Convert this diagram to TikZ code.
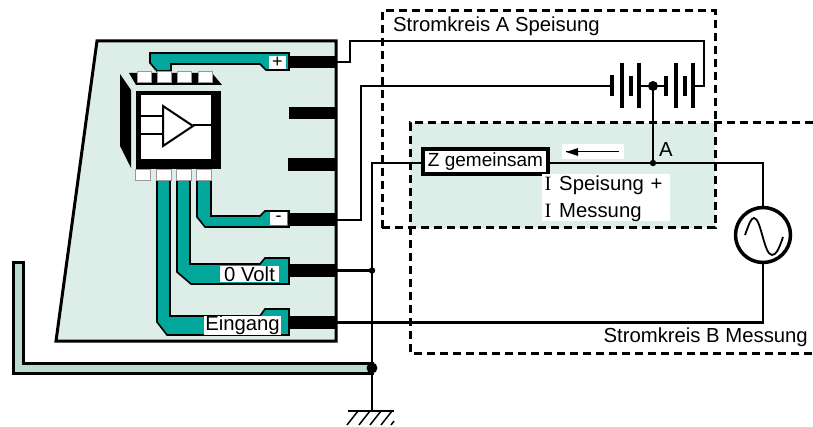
\documentclass[tikz,border=0pt]{standalone}
\usepackage{fontspec}
\setmainfont{Liberation Sans}
\newfontfamily\romanI{Liberation Serif}
\tikzset{
  board/.style={draw=black,line width=3pt,fill=boardtint},
  trace/.style={draw=black,line width=1.6pt,fill=tracegreen},
  pad/.style={fill=black},
  pin/.style={draw=black!40,line width=0.6pt,fill=white},
  wire/.style={draw=black,line width=2.1pt},
  plate/.style={draw=black,line width=3.2pt},
  circuit/.style={draw=black,line width=3pt,dash pattern=on 8pt off 5pt},
  lab/.style={font=\fontsize{20.3}{26}\selectfont,inner sep=0pt},
  whitelab/.style={lab,fill=white,text=black},
}
\definecolor{boardtint}{HTML}{DDEDE8}
\definecolor{tracegreen}{HTML}{00A79A}
\definecolor{chassis}{HTML}{BADBD1}
\begin{document}
\begin{tikzpicture}[x=1pt,y=-1pt]
\useasboundingbox (0,0) rectangle (813,427);

\fill[boardtint] (410,123) rectangle (715,228);

\draw[board] (97,41) -- (336,41) -- (336,341) -- (56,341) -- cycle;
\draw[board,fill=chassis] (13,263) -- (23,263) -- (23,363) -- (372,363) -- (372,373) -- (13,373) -- cycle;

\draw[trace] (150,53) -- (289,53) -- (289,70) -- (266,70) -- (260,64) -- (171,64) -- (171,71) -- (157,71) -- (150,63) -- cycle;
\draw[trace] (197,180) -- (211,180) -- (211,216) -- (260,216) -- (265,211) -- (289,211) -- (289,227) -- (205,227) -- (197,217) -- cycle;
\draw[trace] (177,180) -- (190,180) -- (190,264) -- (260,264) -- (265,258) -- (289,258) -- (289,284) -- (191,284) -- (177,272) -- cycle;
\draw[trace] (157,180) -- (170,180) -- (170,316) -- (260,316) -- (265,309) -- (289,309) -- (289,335) -- (167,335) -- (157,322) -- cycle;

\fill[pad] (289,56) rectangle (335,68);
\fill[pad] (289,107) rectangle (335,119);
\fill[pad] (288,158) rectangle (335,171);
\fill[pad] (289,213) rectangle (335,226);
\fill[pad] (289,264) rectangle (335,277);
\fill[pad] (289,316) rectangle (335,329);

\fill[black] (129,73) -- (212,73) -- (222,85) -- (136,85) -- cycle;
\fill[black] (120,74) -- (131,90) -- (131,168) -- (120,146) -- cycle;
\fill[black] (136,91) rectangle (221,169);
\fill[white] (141,95) rectangle (211,159);
\foreach \xa in {137,157,177,198}
  \draw[pin] (\xa,71) rectangle ++(14,11);
\foreach \xa in {135,156,176,196}
  \draw[pin] (\xa,169.5) rectangle ++(15,10.5);
\draw[black,line width=1.8pt] (141,116) -- (163,116);
\draw[black,line width=1.8pt] (141,134) -- (163,134);
\draw[black,line width=1.8pt] (193,125) -- (211,125);
\draw[black,line width=2pt,fill=white] (163,106) -- (193,126) -- (163,146) -- cycle;

\node[lab,fill=white,minimum width=17pt,minimum height=13pt] (plus) at (277.5,62.5) {\fontsize{18}{18}\selectfont +};
\node[lab,fill=white,minimum width=17pt,minimum height=13pt] (minus) at (278.5,218.5) {\fontsize{18}{18}\selectfont -};
\node[whitelab,minimum width=59pt,minimum height=16pt] (nullvolt) at (249.5,274) {0 Volt};
\node[whitelab,minimum width=77pt,minimum height=17pt] (eingang) at (242.5,325.5) {Eingang};

\coordinate (padplus) at (335,62);
\coordinate (padminus) at (335,220);
\coordinate (padnull) at (335,270.5);
\coordinate (padein) at (335,322.5);
\coordinate (cornerplus) at (350,62);
\coordinate (topleft) at (350,41);
\coordinate (topright) at (704,41);
\coordinate (batright) at (704,86);
\coordinate (cellend) at (693,86);
\coordinate (cornerminus) at (361,220);
\coordinate (batleft) at (361,86);
\coordinate (cellstart) at (612,86);
\coordinate (batmid) at (653,86);
\coordinate (nodeA) at (653,163);
\coordinate (joint) at (372,270.5);
\coordinate (chassisdot) at (372,368);
\coordinate (zcorner) at (372,163);
\coordinate (earth) at (372,411);
\coordinate (gencorner) at (763,163);
\coordinate (genlow) at (763,322.5);

\node[draw=black,line width=3.5pt,fill=white,circle,inner sep=0pt,minimum size=55pt] (gen) at (763,235) {};
\node[draw=black,line width=3.6pt,fill=white,inner sep=0pt,minimum width=125pt,minimum height=25pt,font=\fontsize{19}{23}\selectfont] (zbox) at (485.5,161.5) {Z gemeinsam};

\draw[wire] (padplus) -- (cornerplus) -- (topleft) -- (topright) -- (batright) -- (cellend);
\draw[wire] (padminus) -- (cornerminus) -- (batleft) -- (cellstart);
\draw[wire] (padnull) -- (joint);
\draw[wire] (padein) -- (genlow) -- (gen.south);
\draw[wire] (zbox.west |- zcorner) -- (zcorner) -- (earth);
\draw[wire] (zbox.east |- gencorner) -- (gencorner) -- (gen.north);
\draw[wire,line width=2.6pt] (batmid) -- (nodeA);
\draw[wire] (639,86) -- (666,86);

\foreach \xa/\ya/\yb in {612/75/96,622/63/108,631/76/96,639/63/108,666/76/96,676/63/108,685/76/96,693/63/108}
  \draw[plate] (\xa,\ya) -- (\xa,\yb);
\fill (batmid) circle (5);
\fill (nodeA) circle (3.2);
\fill (joint) circle (3.2);
\fill (chassisdot) circle (5.5);

\draw[black,line width=1.8pt] (745,235) .. controls (749,224) and (751,218) .. (754,218) .. controls (761,218) and (764,255) .. (772,255) .. controls (776,255) and (779,249) .. (783,237);

\draw[black,line width=2.6pt] (348,411) -- (394,411);
\foreach \xa in {347,359,370,381}
  \draw[black,line width=1.5pt] (\xa,425) -- ++(11,-14);
\draw[black,line width=1.5pt] (391,425) -- (394,421);

\draw[circuit] (382,228) -- (382,11) -- (715,11) -- (715,228) -- cycle;
\draw[circuit] (813,123) -- (410,123) -- (410,353) -- (813,353);

\node[lab,anchor=west] (stromA) at (393,26) {Stromkreis A Speisung};
\node[lab,anchor=east] (stromB) at (808,337) {Stromkreis B Messung};
\node[lab] (labA) at (666,150) {A};

\node[fill=white,inner sep=0pt,minimum width=62pt,minimum height=15pt] (arrowbox) at (593,151.5) {};
\coordinate (arrowtail) at (619,152);
\coordinate (arrowhead) at (566,152);
\draw[black,line width=1pt] (arrowtail) -- (arrowhead);
\fill[black] (566,152) -- (578,148) -- (578,156) -- cycle;

\node[whitelab,anchor=north west,minimum width=128pt,minimum height=46pt,align=left,text width=123pt,inner xsep=2.5pt,text height=16pt] (strom) at (542,174) {{\romanI I} \hspace{1pt}Speisung +\\[1pt]{\romanI I} \hspace{1pt}Messung};
\end{tikzpicture}
\end{document}
